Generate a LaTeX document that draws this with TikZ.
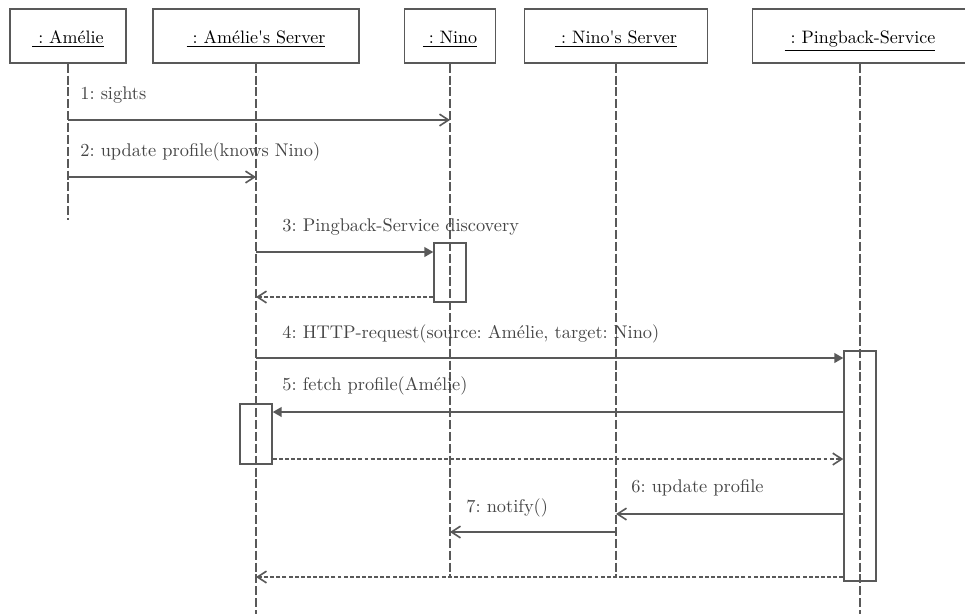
\documentclass[tikz,border=0pt]{standalone}
\usetikzlibrary{arrows.meta}
\definecolor{seqline}{gray}{0.35}
\definecolor{seqtext}{gray}{0.27}
\frenchspacing

\tikzset{
  head/.style={draw=seqline, line width=0.7pt, minimum height=30pt, inner sep=0pt,
    text height=11pt, text depth=2.2pt},
  life/.style={seqline, line width=0.6pt, dash pattern=on 5pt off 1.6pt},
  act/.style={draw=seqline, line width=0.8pt, minimum width=17.8pt, inner sep=0pt},
  call/.style={seqline, line width=0.9pt, -{Triangle[length=5pt,width=5.5pt]}},
  msg/.style={seqline, line width=0.9pt, -{Straight Barb[length=5pt,width=6.5pt]}},
  reply/.style={msg, dash pattern=on 2.2pt off 1.2pt},
  lbl/.style={anchor=west, text=seqtext, inner sep=0pt, font=\fontsize{10.2}{12}\selectfont},
}

\begin{document}
\begin{tikzpicture}[x=0.5556pt, y=-0.5556pt]
\useasboundingbox (0,0) rectangle (965,614);
% objects
\node[head, minimum width=64.4pt]  (amelie)   at (68,36)  {\underline{~: Amélie}};
\node[head, minimum width=114.4pt] (aserver)  at (256,36) {\underline{~: Amélie\textquotesingle s Server}};
\node[head, minimum width=50.6pt]  (nino)     at (450,36) {\underline{~: Nino}};
\node[head, minimum width=101.7pt] (nserver)  at (616,36) {\underline{~: Nino\textquotesingle s Server}};
\node[head, minimum width=119.4pt] (pingback) at (860,36) {\underline{~: Pingback-Service}};
% lifelines
\draw[life] (amelie.south) -- (amelie.south |- 0,220);
\draw[life] (aserver.south) -- (aserver.south |- 0,614);
\draw[life] (nino.south) -- (nino.south |- 0,577);
\draw[life] (nserver.south) -- (nserver.south |- 0,577);
\draw[life] (pingback.south) -- (pingback.south |- 0,614);
% activations
\node[act, minimum height=32.8pt]  (actN) at (450,272.5) {};
\node[act, minimum height=33.3pt]  (actA) at (256,434) {};
\node[act, minimum height=127.8pt] (actP) at (860,466) {};
% messages
\node[lbl] (l1) at (80,95) {1: sights};
\draw[msg] (amelie |- 0,120) -- (nino |- 0,120);
\node[lbl] (l2) at (80,152) {2: update profile(knows Nino)};
\draw[msg] (amelie |- 0,177) -- (aserver |- 0,177);
\node[lbl] (l3) at (282,227) {3: Pingback-Service discovery};
\draw[call] (aserver |- 0,252) -- (actN.west |- 0,252);
\draw[reply] (actN.west |- 0,297) -- (aserver |- 0,297);
\node[lbl] (l4) at (282,334) {4: HTTP-request(source: Amélie, target: Nino)};
\draw[call] (aserver |- 0,358) -- (actP.west |- 0,358);
\node[lbl] (l5) at (282,386) {5: fetch profile(Amélie)};
\draw[call] (actP.west |- 0,412) -- (actA.east |- 0,412);
\draw[reply] (actA.east |- 0,459) -- (actP.west |- 0,459);
\node[lbl] (l6) at (631,488) {6: update profile};
\draw[msg] (actP.west |- 0,514) -- (nserver |- 0,514);
\node[lbl] (l7) at (466,508) {7: notify()};
\draw[msg] (nserver |- 0,532) -- (nino |- 0,532);
\draw[reply] (actP.west |- 0,577) -- (aserver |- 0,577);
\end{tikzpicture}
\end{document}
